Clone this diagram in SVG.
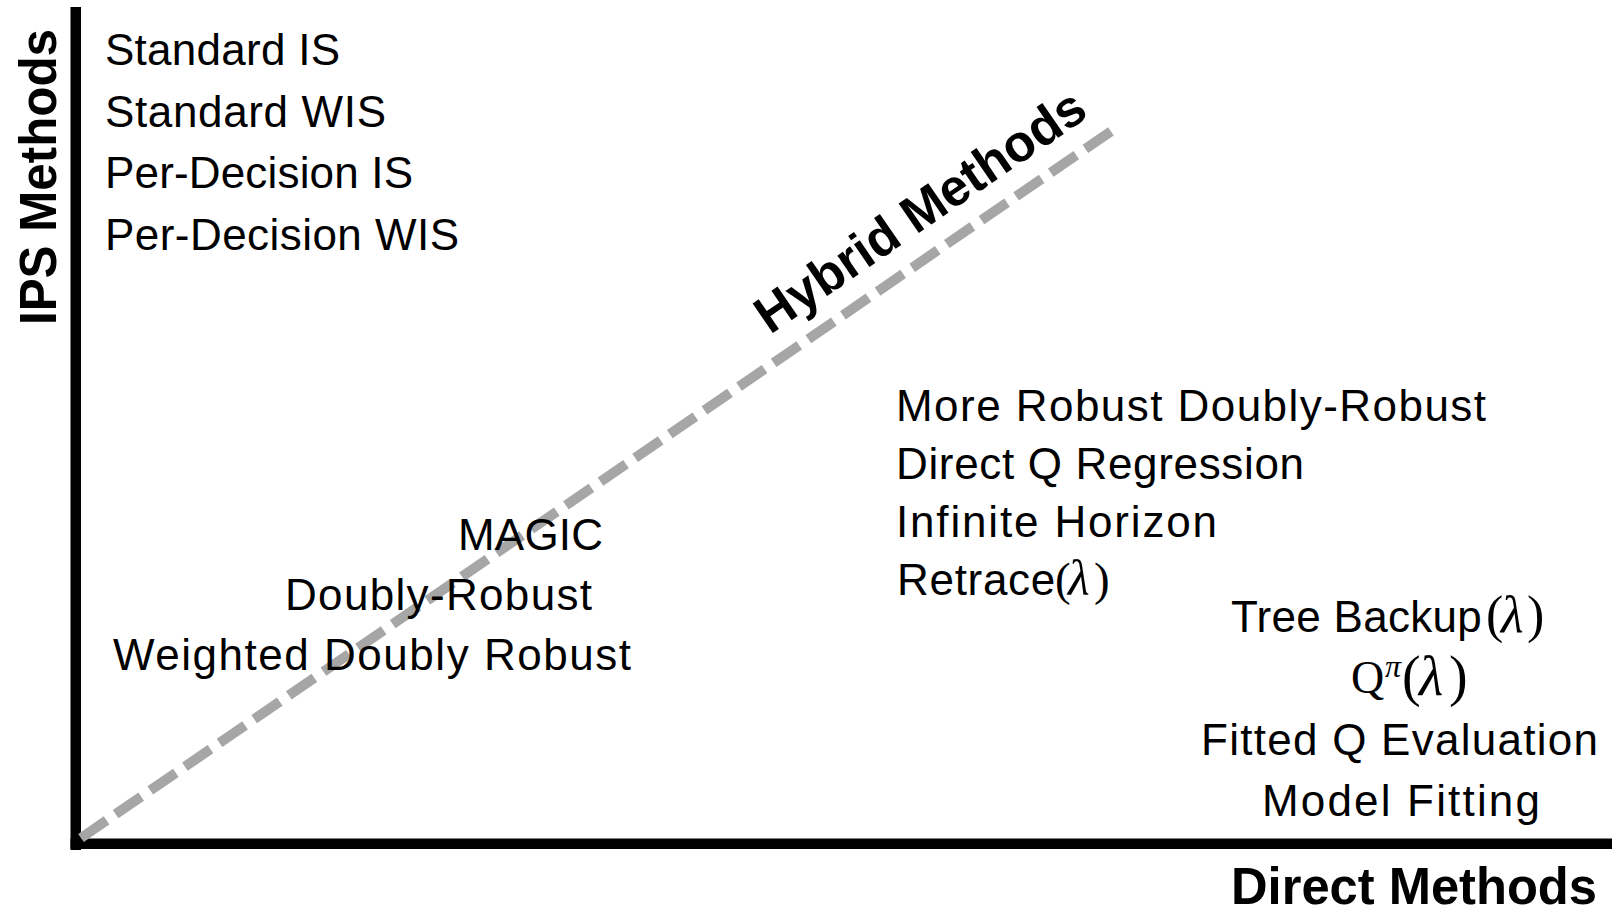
<svg xmlns="http://www.w3.org/2000/svg" width="1612" height="914" viewBox="0 0 1612 914">
<style>
.t{font-family:"Liberation Sans",Arial,sans-serif;font-size:44px;fill:#000}
.b{font-family:"Liberation Sans",Arial,sans-serif;font-size:52px;font-weight:bold;fill:#000}
.m{font-family:"Liberation Serif","Times New Roman",serif;fill:#000}
.i{font-style:italic}
</style>
<rect width="1612" height="914" fill="#fff"/>
<g id="axes">
<rect x="70.5" y="7" width="10.5" height="843" fill="#000"/>
<rect x="70.5" y="838.5" width="1541.5" height="10.5" fill="#000"/>
</g>
<g id="connectors">
<line x1="81" y1="838" x2="1113" y2="130" stroke="#A6A6A6" stroke-width="10" stroke-dasharray="31 11"/>
</g>
<g id="axis-labels">
<text class="b" transform="translate(56,325) rotate(-90)" textLength="296" lengthAdjust="spacingAndGlyphs">IPS Methods</text>
<text class="b" x="1231" y="904" textLength="366" lengthAdjust="spacingAndGlyphs">Direct Methods</text>
<text class="b" transform="translate(770,335) rotate(-34.4)" textLength="388" lengthAdjust="spacingAndGlyphs">Hybrid Methods</text>
</g>
<g id="ips-methods">
<text class="t" x="105" y="65" textLength="235">Standard IS</text>
<text class="t" x="105" y="127" textLength="281">Standard WIS</text>
<text class="t" x="105" y="188" textLength="308">Per-Decision IS</text>
<text class="t" x="105" y="250" textLength="354">Per-Decision WIS</text>
</g>
<g id="hybrid-methods">
<text class="t" x="458" y="550" textLength="145">MAGIC</text>
<text class="t" x="285" y="610" textLength="307">Doubly-Robust</text>
<text class="t" x="113" y="670" textLength="518">Weighted Doubly Robust</text>
</g>
<g id="mixed-methods">
<text class="t" x="896" y="421" textLength="590">More Robust Doubly-Robust</text>
<text class="t" x="896" y="479" textLength="408">Direct Q Regression</text>
<text class="t" x="896" y="537" textLength="321">Infinite Horizon</text>
<text class="t" y="595"><tspan x="897" letter-spacing="0.7">Retrace</tspan><tspan class="m" x="1055" font-size="47">(</tspan><tspan class="m i" x="1068" font-size="50">λ</tspan><tspan class="m" x="1094" font-size="47">)</tspan></text>
</g>
<g id="direct-methods">
<text class="t" y="632"><tspan x="1231" letter-spacing="0.3">Tree Backup</tspan><tspan class="m" x="1486" font-size="52">(</tspan><tspan class="m i" x="1501" font-size="52">λ</tspan><tspan class="m" x="1527" font-size="52">)</tspan></text>
<text class="m" y="693" font-size="46"><tspan x="1351">Q</tspan><tspan class="i" x="1385" dy="-16" font-size="32">π</tspan><tspan x="1402" dy="18" font-size="56">(</tspan><tspan class="i" x="1419" font-size="56">λ</tspan><tspan x="1449" font-size="56">)</tspan></text>
<text class="t" x="1201" y="755" textLength="397">Fitted Q Evaluation</text>
<text class="t" x="1262" y="816" textLength="278">Model Fitting</text>
</g>
</svg>
